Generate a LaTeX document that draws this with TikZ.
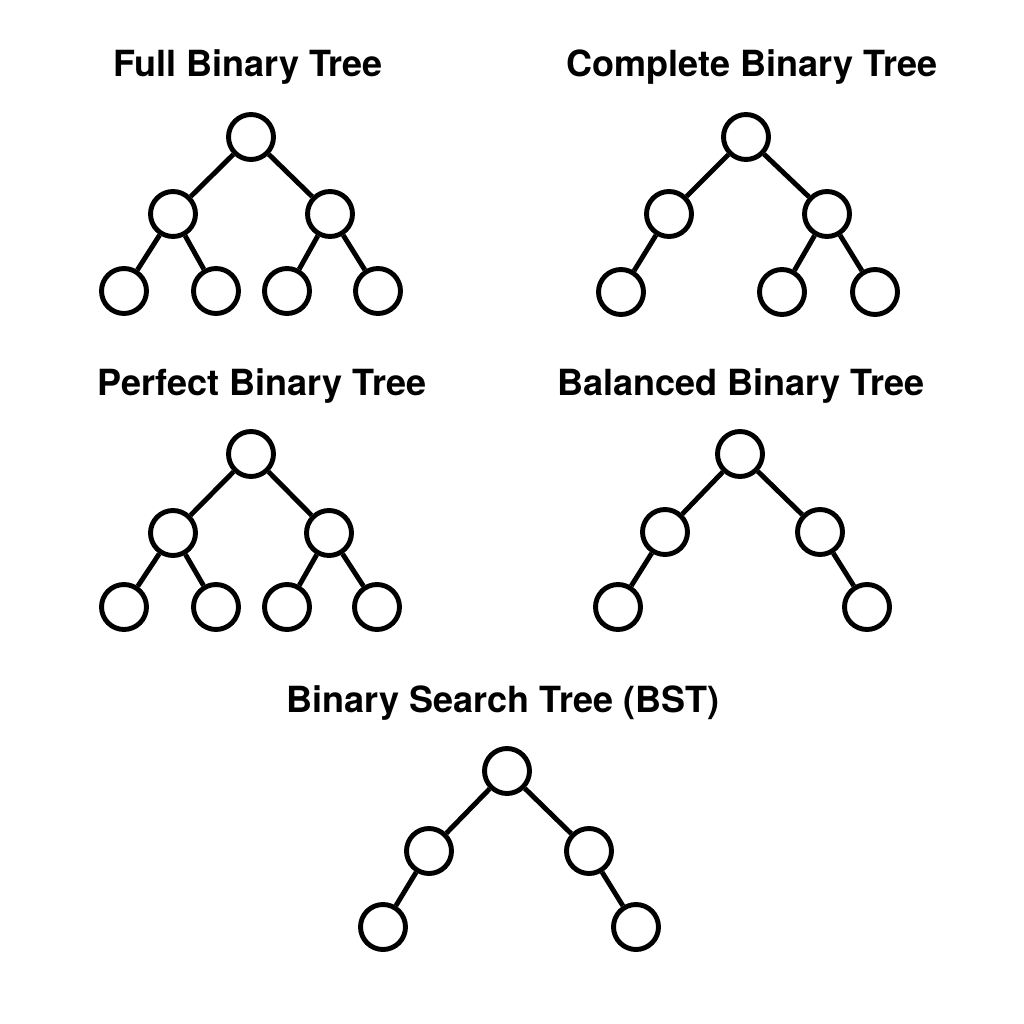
\documentclass[tikz,border=0pt]{standalone}
\usepackage{fontspec}
\setmainfont{TeX Gyre Heros}
\usepackage{tikz}
\tikzset{
  vertex/.style={draw, circle, line width=2.8pt, minimum size=0.9cm, inner sep=0pt},
  edge/.style={line width=2.8pt},
  treetitle/.style={anchor=base, font=\fontsize{20.5}{24}\selectfont\bfseries, inner sep=0pt}
}
\begin{document}
\begin{tikzpicture}[x=0.02cm, y=-0.02cm]
\fill[white] (0,0) rectangle (1024,1024);
\useasboundingbox (0,0) rectangle (1024,1024);

% Full Binary Tree
\node[treetitle] (fullT) at (248,77) {Full Binary Tree};
\node[vertex] (f1) at (251,137) {};
\node[vertex] (f2) at (173,214) {};
\node[vertex] (f3) at (330,214) {};
\node[vertex] (f4) at (124,291) {};
\node[vertex] (f5) at (216,291) {};
\node[vertex] (f6) at (287,291) {};
\node[vertex] (f7) at (378,291) {};
\draw[edge] (f1) -- (f2) (f1) -- (f3) (f2) -- (f4) (f2) -- (f5) (f3) -- (f6) (f3) -- (f7);

% Complete Binary Tree
\node[treetitle] (compT) at (752,77) {Complete Binary Tree};
\node[vertex] (c1) at (746,137) {};
\node[vertex] (c2) at (669,214) {};
\node[vertex] (c3) at (827,214) {};
\node[vertex] (c4) at (621,292) {};
\node[vertex] (c6) at (782,292) {};
\node[vertex] (c7) at (875,292) {};
\draw[edge] (c1) -- (c2) (c1) -- (c3) (c2) -- (c4) (c3) -- (c6) (c3) -- (c7);

% Perfect Binary Tree
\node[treetitle] (perfT) at (262,395) {Perfect Binary Tree};
\node[vertex] (p1) at (251,454) {};
\node[vertex] (p2) at (173,533) {};
\node[vertex] (p3) at (329,533) {};
\node[vertex] (p4) at (124,607) {};
\node[vertex] (p5) at (216,607) {};
\node[vertex] (p6) at (287,607) {};
\node[vertex] (p7) at (377,607) {};
\draw[edge] (p1) -- (p2) (p1) -- (p3) (p2) -- (p4) (p2) -- (p5) (p3) -- (p6) (p3) -- (p7);

% Balanced Binary Tree
\node[treetitle] (balT) at (741,395) {Balanced Binary Tree};
\node[vertex] (b1) at (740,454) {};
\node[vertex] (b2) at (665,532) {};
\node[vertex] (b3) at (820,532) {};
\node[vertex] (b4) at (618,607) {};
\node[vertex] (b7) at (867,607) {};
\draw[edge] (b1) -- (b2) (b1) -- (b3) (b2) -- (b4) (b3) -- (b7);

% Binary Search Tree
\node[treetitle] (bstT) at (503,712) {Binary Search Tree (BST)};
\node[vertex] (s1) at (507,771) {};
\node[vertex] (s2) at (429,851) {};
\node[vertex] (s3) at (589,851) {};
\node[vertex] (s4) at (383,927) {};
\node[vertex] (s7) at (636,927) {};
\draw[edge] (s1) -- (s2) (s1) -- (s3) (s2) -- (s4) (s3) -- (s7);
\end{tikzpicture}
\end{document}
